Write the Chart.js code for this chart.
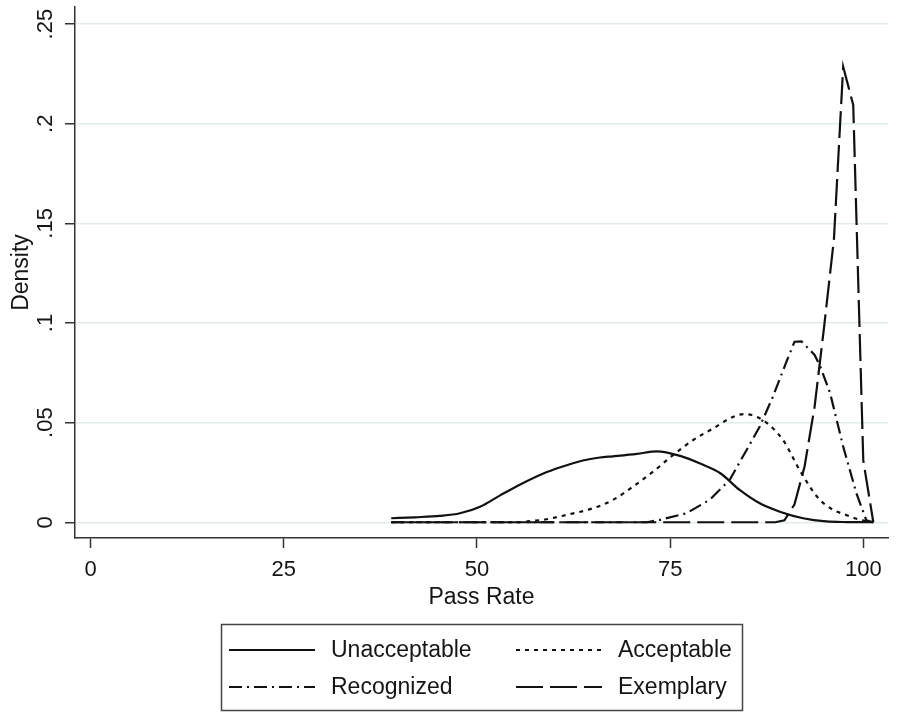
<!DOCTYPE html>
<html>
<head>
<meta charset="utf-8">
<script src="https://cdn.jsdelivr.net/npm/chart.js@4.4.1/dist/chart.umd.min.js"></script>
<style>
  body { margin: 0; background: #fff; }
  canvas { display: block; }
</style>
</head>
<body>
<canvas id="densityChart" width="901" height="712"></canvas>
<script>
// values
const seriesNames = ['Unacceptable', 'Acceptable', 'Recognized', 'Exemplary'];

const unacceptableX = [38.9, 42.0, 45.2, 47.8, 50.4, 53.0, 55.6, 58.6, 60.7, 63.7, 65.9, 67.6, 70.7, 73.3, 76.3, 78.8, 81.5, 84.0, 86.6, 89.2, 92.2, 95.2, 98.0, 101.3];
const unacceptableY = [0.002, 0.0025, 0.0032, 0.0045, 0.0078, 0.0135, 0.019, 0.0245, 0.0275, 0.031, 0.0325, 0.0331, 0.0343, 0.0356, 0.0333, 0.0296, 0.0246, 0.0162, 0.0095, 0.0053, 0.002, 0.0004, 0.0001, 0];

const acceptableX = [38.9, 55.0, 57.0, 59.0, 61.6, 65.0, 67.6, 70.2, 72.8, 75.4, 78.0, 80.6, 83.2, 84.5, 87.0, 89.6, 92.0, 94.2, 96.1, 97.4, 99.6, 101.3];
const acceptableY = [0, 0, 0.0006, 0.0015, 0.0037, 0.007, 0.0112, 0.0179, 0.0254, 0.0338, 0.0413, 0.0472, 0.053, 0.0543, 0.0513, 0.0413, 0.0246, 0.012, 0.0062, 0.0042, 0.0012, 0];

const recognizedX = [38.9, 72.0, 73.7, 77.1, 80.1, 82.7, 84.9, 86.6, 88.3, 90.1, 91.1, 92.0, 93.7, 94.4, 95.7, 97.4, 99.1, 100.4, 101.3];
const recognizedY = [0, 0, 0.0012, 0.0045, 0.0112, 0.0212, 0.0363, 0.048, 0.063, 0.081, 0.0906, 0.0908, 0.084, 0.0785, 0.0649, 0.038, 0.0147, 0.001, 0];

const exemplaryX = [38.9, 88.6, 89.8, 91.1, 92.4, 93.7, 94.9, 96.2, 97.4, 98.7, 100.0, 101.3];
const exemplaryY = [0, 0, 0.001, 0.009, 0.028, 0.058, 0.097, 0.142, 0.2286, 0.2094, 0.031, 0];

const xTicks = [0, 25, 50, 75, 100];
const yTicks = [0, 0.05, 0.1, 0.15, 0.2, 0.25];
const yTickLabels = ['0', '.05', '.1', '.15', '.2', '.25'];

const toPoints = (xs, ys) => xs.map((x, i) => ({ x: x, y: ys[i] }));

const FONT = "'Liberation Sans', Arial, sans-serif";
const INK = '#151515';

// stata style legend box under the plot
const boxLegend = {
  id: 'boxLegend',
  afterDraw(chart) {
    const ctx = chart.ctx;
    ctx.save();
    ctx.strokeStyle = '#444';
    ctx.lineWidth = 1.5;
    ctx.setLineDash([]);
    ctx.strokeRect(221.5, 624.5, 521, 86);
    ctx.font = `23px ${FONT}`;
    ctx.fillStyle = INK;
    ctx.textBaseline = 'middle';
    chart.data.datasets.forEach((ds, i) => {
      const col = i % 2;
      const row = Math.floor(i / 2);
      const x0 = col ? 516 : 229;
      const y = row ? 687 : 650;
      ctx.strokeStyle = ds.borderColor;
      ctx.lineWidth = ds.borderWidth;
      ctx.setLineDash(ds.borderDash || []);
      ctx.beginPath();
      ctx.moveTo(x0, y);
      ctx.lineTo(x0 + 86, y);
      ctx.stroke();
      ctx.setLineDash([]);
      ctx.fillText(ds.label, x0 + 102, y + 1);
    });
    ctx.restore();
  },
};

const ctx = document.getElementById('densityChart');

const densityChart = new Chart(ctx, {
  type: 'line',
  data: {
    datasets: [
      {
        label: seriesNames[0],
        data: toPoints(unacceptableX, unacceptableY),
        borderColor: '#111',
        borderWidth: 2.2,
        borderDash: [],
        cubicInterpolationMode: 'monotone',
      },
      {
        label: seriesNames[1],
        data: toPoints(acceptableX, acceptableY),
        borderColor: '#111',
        borderWidth: 2.2,
        borderDash: [4, 5],
        cubicInterpolationMode: 'monotone',
      },
      {
        label: seriesNames[2],
        data: toPoints(recognizedX, recognizedY),
        borderColor: '#111',
        borderWidth: 2.2,
        borderDash: [13, 5, 2, 5],
        tension: 0,
      },
      {
        label: seriesNames[3],
        data: toPoints(exemplaryX, exemplaryY),
        borderColor: '#111',
        borderWidth: 2.2,
        borderDash: [27, 7],
        tension: 0,
      },
    ],
  },
  options: {
    responsive: false,
    animation: false,
    elements: { point: { radius: 0 } },
    layout: {
      autoPadding: false,
      padding: { left: 8, right: 13, top: 7, bottom: 101 },
    },
    plugins: {
      legend: { display: false },
      tooltip: { enabled: false },
    },
    scales: {
      x: {
        type: 'linear',
        min: -2.03,
        max: 103.2,
        afterBuildTicks: (scale) => {
          scale.ticks = xTicks.map((v) => ({ value: v }));
        },
        afterFit: (scale) => {
          scale.height = 73;
          scale.paddingLeft = 0;
          scale.paddingRight = 0;
        },
        border: { color: '#333', width: 1.5 },
        grid: {
          drawOnChartArea: false,
          tickLength: 10,
          tickColor: '#333',
          tickWidth: 1.5,
        },
        ticks: {
          padding: 9,
          color: INK,
          font: { family: FONT, size: 22 },
          maxRotation: 0,
        },
        title: {
          display: true,
          text: 'Pass Rate',
          color: INK,
          padding: 0,
          font: { family: FONT, size: 23 },
        },
      },
      y: {
        type: 'linear',
        min: -0.0079,
        max: 0.2586,
        afterBuildTicks: (scale) => {
          scale.ticks = yTicks.map((v) => ({ value: v }));
        },
        afterFit: (scale) => {
          scale.width = 67;
          scale.paddingTop = 0;
          scale.paddingBottom = 0;
        },
        border: { color: '#333', width: 1.5 },
        grid: {
          color: '#e2ecee',
          lineWidth: 1.5,
          tickLength: 10,
          tickColor: '#333',
          tickWidth: 1.5,
        },
        ticks: {
          padding: 4,
          color: INK,
          crossAlign: 'center',
          minRotation: 90,
          maxRotation: 90,
          font: { family: FONT, size: 22 },
          callback: (value, index) => yTickLabels[index],
        },
        title: {
          display: true,
          text: 'Density',
          color: INK,
          padding: 0,
          font: { family: FONT, size: 23 },
        },
      },
    },
  },
  plugins: [boxLegend],
});
</script>
</body>
</html>
